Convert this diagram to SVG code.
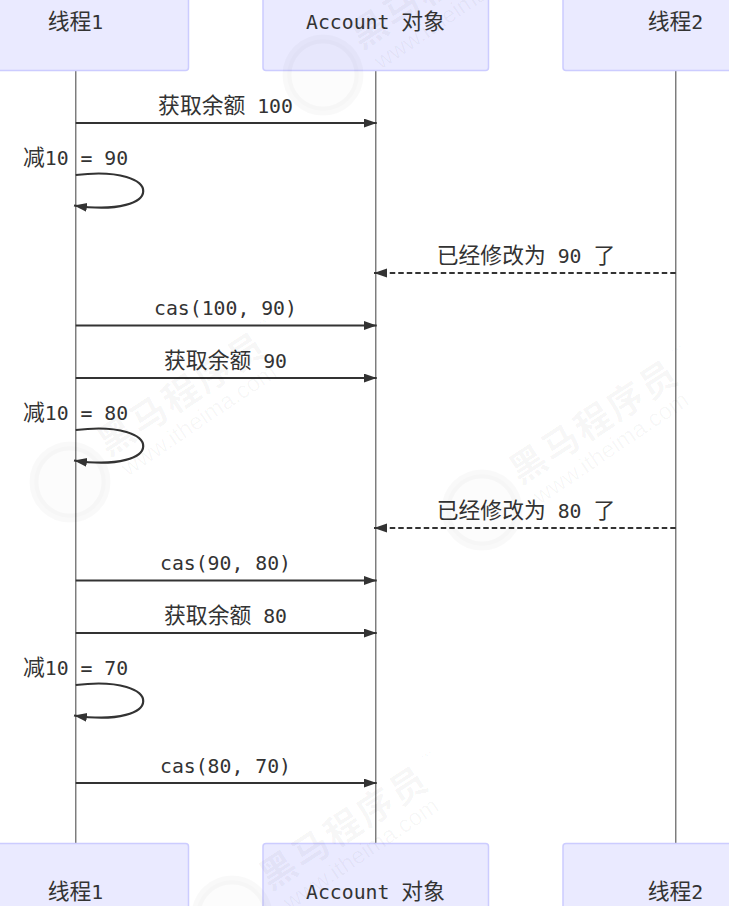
<svg xmlns="http://www.w3.org/2000/svg" width="729" height="906" viewBox="0 0 729 906">
<style>
text{font-family:"DejaVu Sans Mono","Noto Sans CJK SC",monospace;font-size:19.8px;fill:#333;text-anchor:middle}
.c{font-size:21.8px}
.box{fill:#eaeaff;stroke:#ccf;stroke-width:1.5}
.life{stroke:#777;stroke-width:1.4;fill:none}
.msg{stroke:#333;stroke-width:2.2;fill:none;marker-end:url(#arr)}
.dash{stroke-dasharray:5.5 3}
text.wm{font-family:"Noto Sans CJK SC",sans-serif;font-weight:700;font-size:36px;letter-spacing:2.7px;fill:#000;fill-opacity:.04;text-anchor:start}
text.wm2{font-family:"Liberation Sans",sans-serif;font-size:23.3px;fill:#000;fill-opacity:.035;text-anchor:start}
text.wm3{font-family:"Liberation Sans",sans-serif;font-size:9px;fill:#000;fill-opacity:.04;text-anchor:start}
.ring{fill:#000;fill-opacity:.012;stroke:#000;stroke-opacity:.022;stroke-width:9}
</style>
<defs><marker id="arr" markerUnits="userSpaceOnUse" markerWidth="14" markerHeight="10" refX="13" refY="4.500" orient="auto"><path d="M0 0L13 4.500L0 9Z" fill="#333"/></marker></defs>
<g id="lifelines">
<line class="life" x1="75.750" y1="70" x2="75.750" y2="843"/>
<line class="life" x1="375.750" y1="70" x2="375.750" y2="843"/>
<line class="life" x1="675.750" y1="70" x2="675.750" y2="843"/>
</g>
<g id="node-t1-top"><rect class="box" x="-37" y="-20" width="225.500" height="90.500" rx="3"/><text x="75.500" y="29"><tspan class="c">线程</tspan>1</text></g>
<g id="node-acc-top"><rect class="box" x="263" y="-20" width="225.500" height="90.500" rx="3"/><text x="375.500" y="29">Account <tspan class="c">对象</tspan></text></g>
<g id="node-t2-top"><rect class="box" x="563" y="-20" width="225.500" height="90.500" rx="3"/><text x="675.500" y="29"><tspan class="c">线程</tspan>2</text></g>
<g id="node-t1-bot"><rect class="box" x="-37" y="843.500" width="225.500" height="90" rx="3"/><text x="75.500" y="899"><tspan class="c">线程</tspan>1</text></g>
<g id="node-acc-bot"><rect class="box" x="263" y="843.500" width="225.500" height="90" rx="3"/><text x="375.500" y="899">Account <tspan class="c">对象</tspan></text></g>
<g id="node-t2-bot"><rect class="box" x="563" y="843.500" width="225.500" height="90" rx="3"/><text x="675.500" y="899"><tspan class="c">线程</tspan>2</text></g>
<g id="connectors">
<path class="msg" d="M75.750 123H376.700"/>
<path class="msg" d="M75.750 175C166 164 166 219 74 205.500"/>
<path class="msg dash" d="M675.750 273H374"/>
<path class="msg" d="M75.750 325.500H376.700"/>
<path class="msg" d="M75.750 378H376.700"/>
<path class="msg" d="M75.750 430C166 419 166 474 74 460.500"/>
<path class="msg dash" d="M675.750 528H374"/>
<path class="msg" d="M75.750 580.500H376.700"/>
<path class="msg" d="M75.750 633H376.700"/>
<path class="msg" d="M75.750 685C166 674 166 729 74 715.500"/>
<path class="msg" d="M75.750 783H376.700"/>
</g>
<g id="labels">
<text x="225.500" y="113"><tspan class="c">获取余额</tspan> 100</text>
<text x="75.500" y="165"><tspan class="c">减</tspan>10 = 90</text>
<text x="526" y="263"><tspan class="c">已经修改为</tspan> 90 <tspan class="c">了</tspan></text>
<text x="225.500" y="315">cas(100, 90)</text>
<text x="225.500" y="368"><tspan class="c">获取余额</tspan> 90</text>
<text x="75.500" y="420"><tspan class="c">减</tspan>10 = 80</text>
<text x="526" y="518"><tspan class="c">已经修改为</tspan> 80 <tspan class="c">了</tspan></text>
<text x="225.500" y="570">cas(90, 80)</text>
<text x="225.500" y="623"><tspan class="c">获取余额</tspan> 80</text>
<text x="75.500" y="675"><tspan class="c">减</tspan>10 = 70</text>
<text x="225.500" y="773">cas(80, 70)</text>
</g>
<g id="watermark-1" transform="translate(323 75)">
<circle class="ring" r="36"/>
<text class="wm" transform="translate(38 -25) rotate(-33)">黑马程序员</text>
<text class="wm2" transform="translate(58 -5) rotate(-34)">www.itheima.com</text>
<text class="wm3" transform="translate(191 -153) rotate(-33)">TM</text>
</g>
<g id="watermark-2" transform="translate(70 482)">
<circle class="ring" r="36"/>
<text class="wm" transform="translate(38 -25) rotate(-33)">黑马程序员</text>
<text class="wm2" transform="translate(58 -5) rotate(-34)">www.itheima.com</text>
<text class="wm3" transform="translate(191 -153) rotate(-33)">TM</text>
</g>
<g id="watermark-3" transform="translate(482 510)">
<circle class="ring" r="36"/>
<text class="wm" transform="translate(38 -25) rotate(-33)">黑马程序员</text>
<text class="wm2" transform="translate(58 -5) rotate(-34)">www.itheima.com</text>
<text class="wm3" transform="translate(191 -153) rotate(-33)">TM</text>
</g>
<g id="watermark-4" transform="translate(232 916)">
<circle class="ring" r="36"/>
<text class="wm" transform="translate(38 -25) rotate(-33)">黑马程序员</text>
<text class="wm2" transform="translate(58 -5) rotate(-34)">www.itheima.com</text>
<text class="wm3" transform="translate(191 -153) rotate(-33)">TM</text>
</g>
</svg>
